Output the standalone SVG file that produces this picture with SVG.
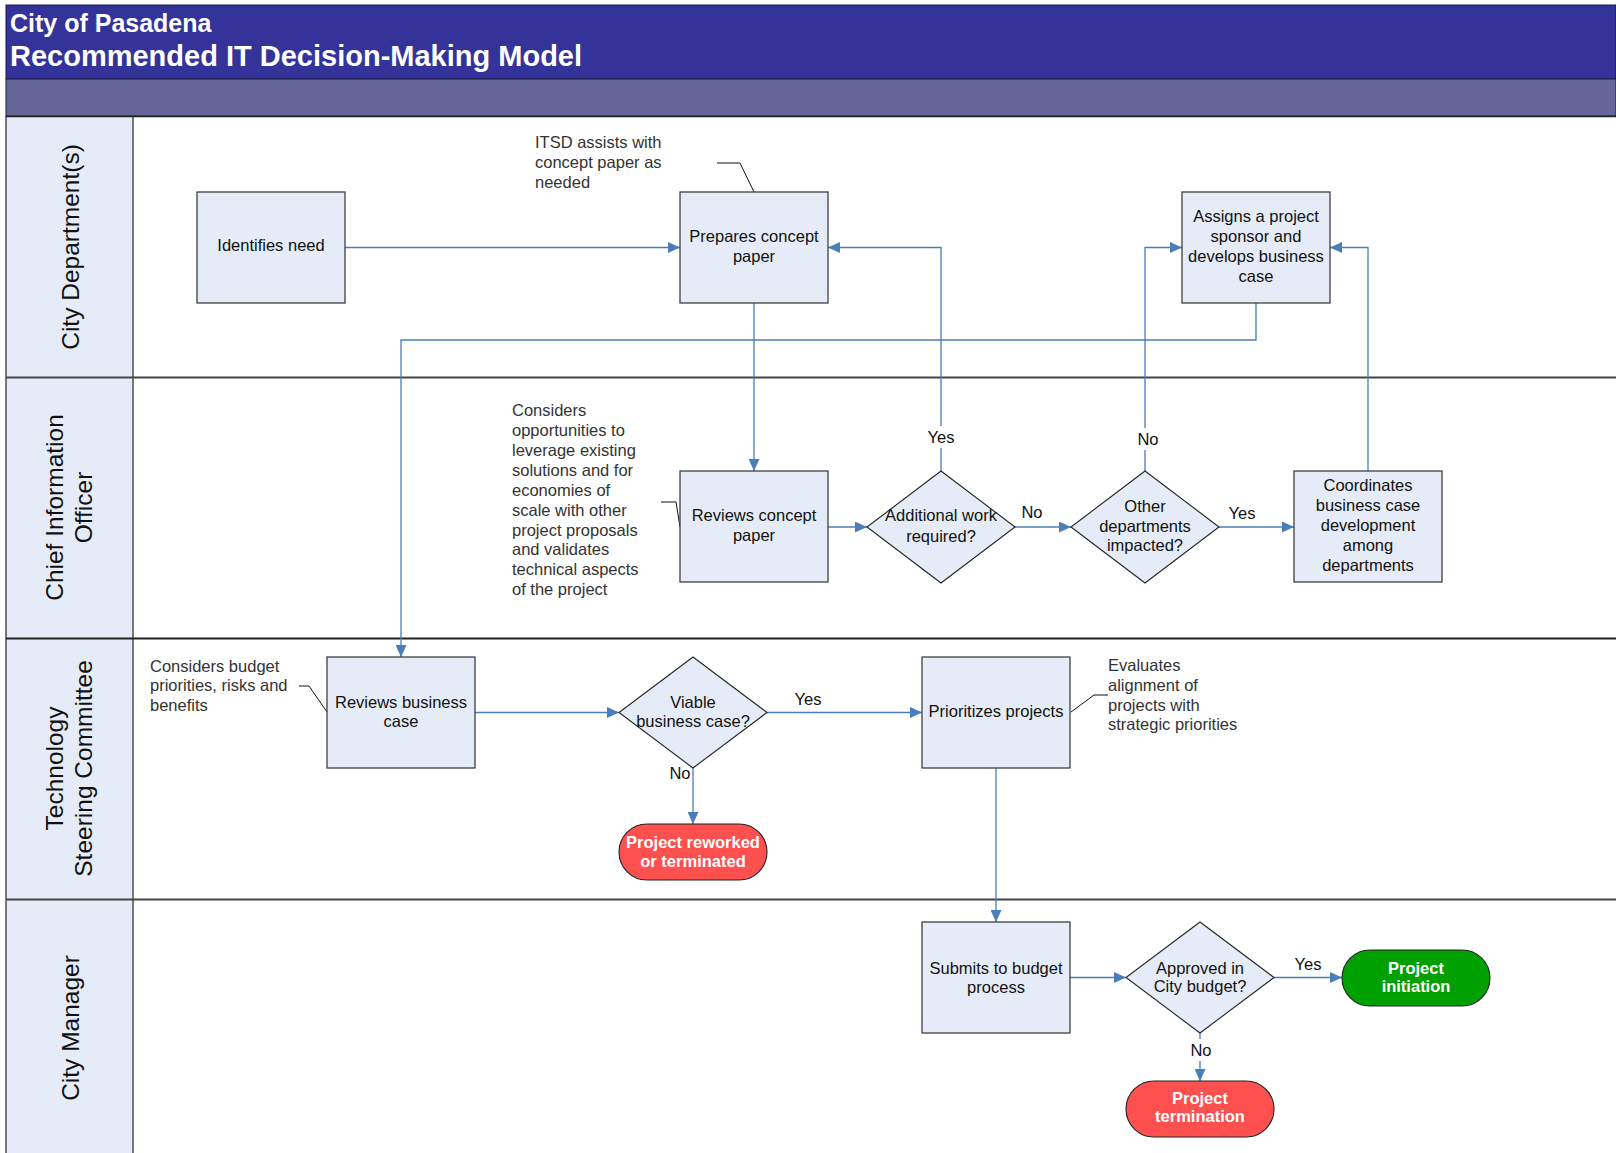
<svg xmlns="http://www.w3.org/2000/svg" width="1616" height="1153" viewBox="0 0 1616 1153">
<defs>
<marker id="arr" viewBox="0 0 12 11" markerWidth="12" markerHeight="11" refX="12" refY="5.5" orient="auto" markerUnits="userSpaceOnUse">
<path d="M0,0 L12,5.5 L0,11 z" fill="#4A7EBB"/>
</marker>
<style>
.t{font-family:"Liberation Sans",Arial,sans-serif;font-size:16.5px;fill:#111;}
.c{text-anchor:middle;}
.ann{font-family:"Liberation Sans",Arial,sans-serif;font-size:16.5px;fill:#333;}
.lane{font-family:"Liberation Sans",Arial,sans-serif;font-size:24.5px;fill:#111;text-anchor:middle;}
.box{fill:#E6ECF7;stroke:#404040;stroke-width:1.3;}
.dia{fill:#E6ECF7;stroke:#222;stroke-width:1.1;}
.term{font-family:"Liberation Sans",Arial,sans-serif;font-size:16.5px;font-weight:bold;fill:#fff;text-anchor:middle;}
.conn path{fill:none;stroke:#4A7EBB;stroke-width:1.3;marker-end:url(#arr);}
.hook{fill:none;stroke:#111;stroke-width:1;}
.lbl{font-family:"Liberation Sans",Arial,sans-serif;font-size:16.5px;fill:#111;text-anchor:middle;}
</style>
</defs>
<rect x="0" y="0" width="1616" height="1153" fill="#fff"/>
<!-- header -->
<g id="header">
<rect x="6" y="5" width="1610" height="74" fill="#333399" stroke="#1a1a4d" stroke-width="1"/>
<rect x="6" y="79" width="1610" height="37" fill="#666699" stroke="#1a1a4d" stroke-width="1"/>
<text x="10" y="32" font-family="Liberation Sans,Arial,sans-serif" font-size="25" font-weight="bold" fill="#fff">City of Pasadena</text>
<text x="10" y="66" font-family="Liberation Sans,Arial,sans-serif" font-size="29" font-weight="bold" fill="#fff">Recommended IT Decision-Making Model</text>
</g>
<!-- lanes -->
<g id="lanes">
<rect x="6" y="116" width="127" height="1037" fill="#E6ECF7"/>
<line x1="6" y1="116" x2="6" y2="1153" stroke="#333" stroke-width="1.3"/>
<line x1="133" y1="116" x2="133" y2="1153" stroke="#333" stroke-width="1.3"/>
<line x1="6" y1="116.5" x2="1616" y2="116.5" stroke="#222" stroke-width="1.5"/>
<line x1="6" y1="377.5" x2="1616" y2="377.5" stroke="#444" stroke-width="1.8"/>
<line x1="6" y1="638.5" x2="1616" y2="638.5" stroke="#222" stroke-width="1.8"/>
<line x1="6" y1="899.5" x2="1616" y2="899.5" stroke="#444" stroke-width="1.8"/>
<g transform="translate(69.5,247) rotate(-90)"><text class="lane" x="0" y="9">City Department(s)</text></g>
<g transform="translate(68,507.5) rotate(-90)"><text class="lane" x="0" y="-5">Chief Information</text><text class="lane" x="0" y="24">Officer</text></g>
<g transform="translate(68,768.5) rotate(-90)"><text class="lane" x="0" y="-5">Technology</text><text class="lane" x="0" y="24">Steering Committee</text></g>
<g transform="translate(69.5,1028) rotate(-90)"><text class="lane" x="0" y="9">City Manager</text></g>
</g>
<!-- connectors -->
<g id="connectors" class="conn">
<path d="M345,247.5 H680"/>
<path d="M754,303 V471"/>
<path d="M941,471 V247.5 H828"/>
<path d="M828,527 H867"/>
<path d="M1015,527 H1071"/>
<path d="M1145,471 V247.5 H1182"/>
<path d="M1219,527 H1294"/>
<path d="M1368,471 V247.5 H1330"/>
<path d="M1256,303 V340 H401 V657"/>
<path d="M475,712.5 H619"/>
<path d="M767,712.5 H922"/>
<path d="M693,768 V824"/>
<path d="M996,768 V922"/>
<path d="M1070,977.5 H1126"/>
<path d="M1274,977.5 H1342"/>
<path d="M1200,1033 V1081"/>
</g>
<g id="connector-labels">
<rect x="926" y="426" width="30" height="22" fill="#fff"/>
<text class="lbl" x="941" y="443">Yes</text>
<text class="lbl" x="1032" y="518">No</text>
<rect x="1132" y="428" width="28" height="22" fill="#fff"/>
<text class="lbl" x="1148" y="445">No</text>
<text class="lbl" x="1242" y="519">Yes</text>
<text class="lbl" x="808" y="705">Yes</text>
<text class="lbl" x="680" y="779">No</text>
<text class="lbl" x="1308" y="970">Yes</text>
<rect x="1187" y="1039" width="26" height="22" fill="#fff"/>
<text class="lbl" x="1201" y="1056">No</text>
</g>
<!-- annotations -->
<g id="ann-itsd">
<polyline class="hook" points="717,163 740,163 754,192"/>
<text class="ann" x="535" y="148">ITSD assists with</text>
<text class="ann" x="535" y="168">concept paper as</text>
<text class="ann" x="535" y="188">needed</text>
</g>
<g id="ann-cio">
<polyline class="hook" points="661,502 676,502 680,527"/>
<text class="ann" x="512" y="416">Considers</text>
<text class="ann" x="512" y="436">opportunities to</text>
<text class="ann" x="512" y="456">leverage existing</text>
<text class="ann" x="512" y="476">solutions and for</text>
<text class="ann" x="512" y="496">economies of</text>
<text class="ann" x="512" y="516">scale with other</text>
<text class="ann" x="512" y="536">project proposals</text>
<text class="ann" x="512" y="555">and validates</text>
<text class="ann" x="512" y="575">technical aspects</text>
<text class="ann" x="512" y="595">of the project</text>
</g>
<g id="ann-tsc">
<polyline class="hook" points="299,686 309,686 327,712"/>
<text class="ann" x="150" y="672">Considers budget</text>
<text class="ann" x="150" y="691">priorities, risks and</text>
<text class="ann" x="150" y="711">benefits</text>
</g>
<g id="ann-prio">
<polyline class="hook" points="1108,695 1094,695 1071,712"/>
<text class="ann" x="1108" y="671">Evaluates</text>
<text class="ann" x="1108" y="691">alignment of</text>
<text class="ann" x="1108" y="711">projects with</text>
<text class="ann" x="1108" y="730">strategic priorities</text>
</g>
<!-- nodes -->
<g id="n-identifies">
<rect class="box" x="197" y="192" width="148" height="111"/>
<text class="t c" x="271" y="251">Identifies need</text>
</g>
<g id="n-prepares">
<rect class="box" x="680" y="192" width="148" height="111"/>
<text class="t c" x="754" y="242">Prepares concept</text>
<text class="t c" x="754" y="262">paper</text>
</g>
<g id="n-assigns">
<rect class="box" x="1182" y="192" width="148" height="111"/>
<text class="t c" x="1256" y="222">Assigns a project</text>
<text class="t c" x="1256" y="242">sponsor and</text>
<text class="t c" x="1256" y="262">develops business</text>
<text class="t c" x="1256" y="282">case</text>
</g>
<g id="n-reviews-concept">
<rect class="box" x="680" y="471" width="148" height="111"/>
<text class="t c" x="754" y="521">Reviews concept</text>
<text class="t c" x="754" y="541">paper</text>
</g>
<g id="n-additional">
<polygon class="dia" points="941,471 1015,527 941,583 867,527"/>
<text class="t c" x="941" y="521">Additional work</text>
<text class="t c" x="941" y="542">required?</text>
</g>
<g id="n-other">
<polygon class="dia" points="1145,471 1219,527 1145,583 1071,527"/>
<text class="t c" x="1145" y="512">Other</text>
<text class="t c" x="1145" y="532">departments</text>
<text class="t c" x="1145" y="551">impacted?</text>
</g>
<g id="n-coordinates">
<rect class="box" x="1294" y="471" width="148" height="111"/>
<text class="t c" x="1368" y="491">Coordinates</text>
<text class="t c" x="1368" y="511">business case</text>
<text class="t c" x="1368" y="531">development</text>
<text class="t c" x="1368" y="551">among</text>
<text class="t c" x="1368" y="571">departments</text>
</g>
<g id="n-reviews-business">
<rect class="box" x="327" y="657" width="148" height="111"/>
<text class="t c" x="401" y="708">Reviews business</text>
<text class="t c" x="401" y="727">case</text>
</g>
<g id="n-viable">
<polygon class="dia" points="693,657 767,712.5 693,768 619,712.5"/>
<text class="t c" x="693" y="708">Viable</text>
<text class="t c" x="693" y="727">business case?</text>
</g>
<g id="n-prioritizes">
<rect class="box" x="922" y="657" width="148" height="111"/>
<text class="t c" x="996" y="717">Prioritizes projects</text>
</g>
<g id="n-reworked">
<rect x="619" y="824" width="148" height="56" rx="28" fill="#FF5050" stroke="#222" stroke-width="1.1"/>
<text class="term" x="693" y="848">Project reworked</text>
<text class="term" x="693" y="867">or terminated</text>
</g>
<g id="n-submits">
<rect class="box" x="922" y="922" width="148" height="111"/>
<text class="t c" x="996" y="974">Submits to budget</text>
<text class="t c" x="996" y="993">process</text>
</g>
<g id="n-approved">
<polygon class="dia" points="1200,922 1274,977.5 1200,1033 1126,977.5"/>
<text class="t c" x="1200" y="974">Approved in</text>
<text class="t c" x="1200" y="992">City budget?</text>
</g>
<g id="n-initiation">
<rect x="1342" y="950" width="148" height="56" rx="28" fill="#00A000" stroke="#222" stroke-width="1.1"/>
<text class="term" x="1416" y="974">Project</text>
<text class="term" x="1416" y="992">initiation</text>
</g>
<g id="n-termination">
<rect x="1126" y="1081" width="148" height="56" rx="28" fill="#FF5050" stroke="#222" stroke-width="1.1"/>
<text class="term" x="1200" y="1104">Project</text>
<text class="term" x="1200" y="1122">termination</text>
</g>
</svg>
